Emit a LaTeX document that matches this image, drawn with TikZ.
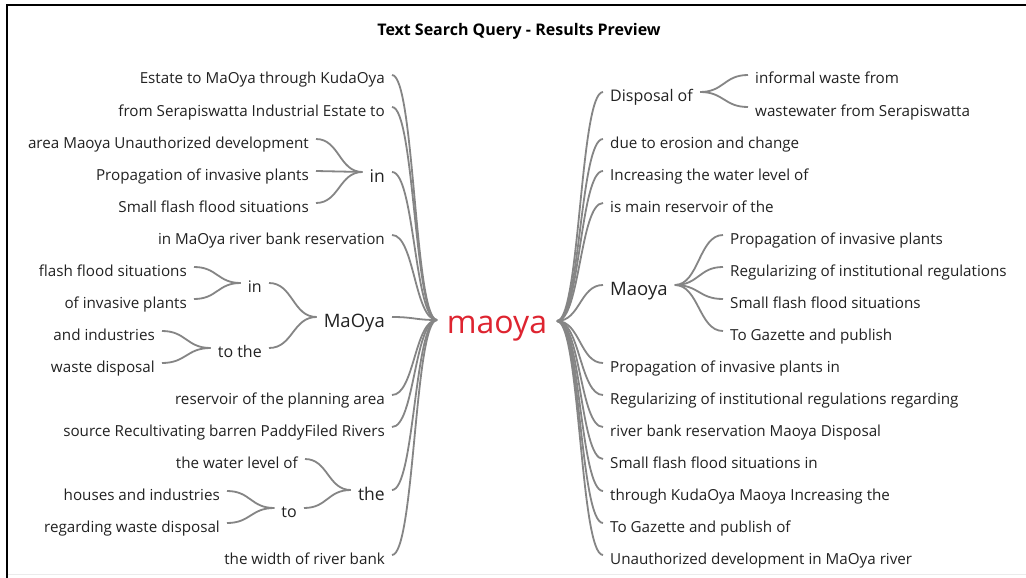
\documentclass[tikz,border=0pt]{standalone}
\usepackage{fontspec}
\setmainfont{Open Sans}
\usepackage{tikz}
\usetikzlibrary{positioning,calc}
\definecolor{ink}{HTML}{222222}
\definecolor{twigc}{HTML}{858585}
\definecolor{hubred}{HTML}{DE2430}
\tikzset{
  leaf/.style={inner xsep=7pt, inner ysep=0pt, text height=18pt, text depth=0pt,
               font=\fontsize{15.2}{18}\selectfont, text=ink},
  knot/.style={leaf, font=\fontsize{16}{19}\selectfont},
  midknot/.style={leaf, text height=20pt, font=\fontsize{17.5}{20}\selectfont},
  bigknot/.style={leaf, text height=20pt, font=\fontsize{18.5}{22}\selectfont},
  lf/.style={anchor=east},
  rt/.style={anchor=west},
  br/.style={draw=twigc, line width=1.8pt},
  hub/.style={anchor=base, font=\fontsize{32}{36}\selectfont, text=hubred},
  ttl/.style={anchor=base, font=\fontsize{16}{19}\selectfont\bfseries, text=black},
}
% horizontal link, bends half way
\newcommand{\twig}[2]{%
  \path ($(#1)!.5!(#2)$) coordinate (mid);
  \draw[br] (#1) .. controls (mid |- #1) and (mid |- #2) .. (#2);}

\begin{document}
\begin{tikzpicture}[x=1pt, y=-1pt]
\useasboundingbox (0,0) rectangle (1026,578);
\fill[white] (0,0) rectangle (1026,578);
\draw[line width=2pt] (7,578) -- (7,5) -- (1026,5);
\draw[black!8, line width=1pt] (8,574.5) -- (1026,574.5);

\node[ttl] (title) at (519,35.5) {Text Search Query - Results Preview};
\node[hub] (root) at (497,333) {maoya};
\coordinate (hl) at (437,320);
\coordinate (hr) at (557,321);

% --- LEFT ---
\node[leaf, lf] (lEstate) at (392,75)  {Estate to MaOya through KudaOya};
\node[leaf, lf] (lFrom)   at (392,107) {from Serapiswatta Industrial Estate to};
\node[midknot, lf] (lIn)  at (392,172) {in};
\node[leaf, lf] (lInA)    at (316,139) {area Maoya Unauthorized development};
\node[leaf, lf] (lInB)    at (316,171) {Propagation of invasive plants};
\node[leaf, lf] (lInC)    at (316,203) {Small flash flood situations};
\node[leaf, lf] (lRiver)  at (392,235) {in MaOya river bank reservation};
\node[bigknot, lf] (lMaOya) at (392,317) {MaOya};
\node[knot, lf] (lMin)    at (269,283) {in};
\node[leaf, lf] (lMinA)   at (194,267) {flash flood situations};
\node[leaf, lf] (lMinB)   at (194,299) {of invasive plants};
\node[knot, lf] (lMto)    at (269,348) {to the};
\node[leaf, lf] (lMtoA)   at (162,331) {and industries};
\node[leaf, lf] (lMtoB)   at (162,363) {waste disposal};
\node[leaf, lf] (lRes)    at (392,395) {reservoir of the planning area};
\node[leaf, lf] (lSrc)    at (392,427) {source Recultivating barren PaddyFiled Rivers};
\node[midknot, lf] (lThe) at (392,490) {the};
\node[leaf, lf] (lTheA)   at (305,459) {the water level of};
\node[knot, lf] (lTo)     at (304,508) {to};
\node[leaf, lf] (lToA)    at (227,491) {houses and industries};
\node[leaf, lf] (lToB)    at (227,523) {regarding waste disposal};
\node[leaf, lf] (lWidth)  at (392,555) {the width of river bank};

\foreach \c in {lEstate,lFrom,lIn,lRiver,lMaOya,lRes,lSrc,lThe,lWidth}
  \twig{hl}{\c.east};
\foreach \p/\c in {lIn/lInA,lIn/lInB,lIn/lInC,lMaOya/lMin,lMaOya/lMto,
                   lMin/lMinA,lMin/lMinB,lMto/lMtoA,lMto/lMtoB,
                   lThe/lTheA,lThe/lTo,lTo/lToA,lTo/lToB}
  \twig{\p.west}{\c.east};

% --- RIGHT ---
\node[knot, rt] (rDisp)   at (603,92)  {Disposal of};
\node[leaf, rt] (rDispA)  at (748,75)  {informal waste from};
\node[leaf, rt] (rDispB)  at (748,107) {wastewater from Serapiswatta};
\node[leaf, rt] (rErosion) at (603,139) {due to erosion and change};
\node[leaf, rt] (rIncr)   at (603,171) {Increasing the water level of};
\node[leaf, rt] (rMain)   at (603,203) {is main reservoir of the};
\node[bigknot, rt] (rMaoya) at (603,285) {Maoya};
\node[leaf, rt] (rMaA)    at (723,235) {Propagation of invasive plants};
\node[leaf, rt] (rMaB)    at (723,267) {Regularizing of institutional regulations};
\node[leaf, rt] (rMaC)    at (723,299) {Small flash flood situations};
\node[leaf, rt] (rMaD)    at (723,331) {To Gazette and publish};
\node[leaf, rt] (rProp)   at (603,363) {Propagation of invasive plants in};
\node[leaf, rt] (rReg)    at (603,395) {Regularizing of institutional regulations regarding};
\node[leaf, rt] (rBank)   at (603,427) {river bank reservation Maoya Disposal};
\node[leaf, rt] (rFlash)  at (603,459) {Small flash flood situations in};
\node[leaf, rt] (rKuda)   at (603,491) {through KudaOya Maoya Increasing the};
\node[leaf, rt] (rGaz)    at (603,523) {To Gazette and publish of};
\node[leaf, rt] (rUnauth) at (603,555) {Unauthorized development in MaOya river};

\foreach \c in {rDisp,rErosion,rIncr,rMain,rMaoya,rProp,rReg,rBank,rFlash,rKuda,rGaz,rUnauth}
  \twig{hr}{\c.west};
\foreach \p/\c in {rDisp/rDispA,rDisp/rDispB,rMaoya/rMaA,rMaoya/rMaB,rMaoya/rMaC,rMaoya/rMaD}
  \twig{\p.east}{\c.west};

\end{tikzpicture}
\end{document}
